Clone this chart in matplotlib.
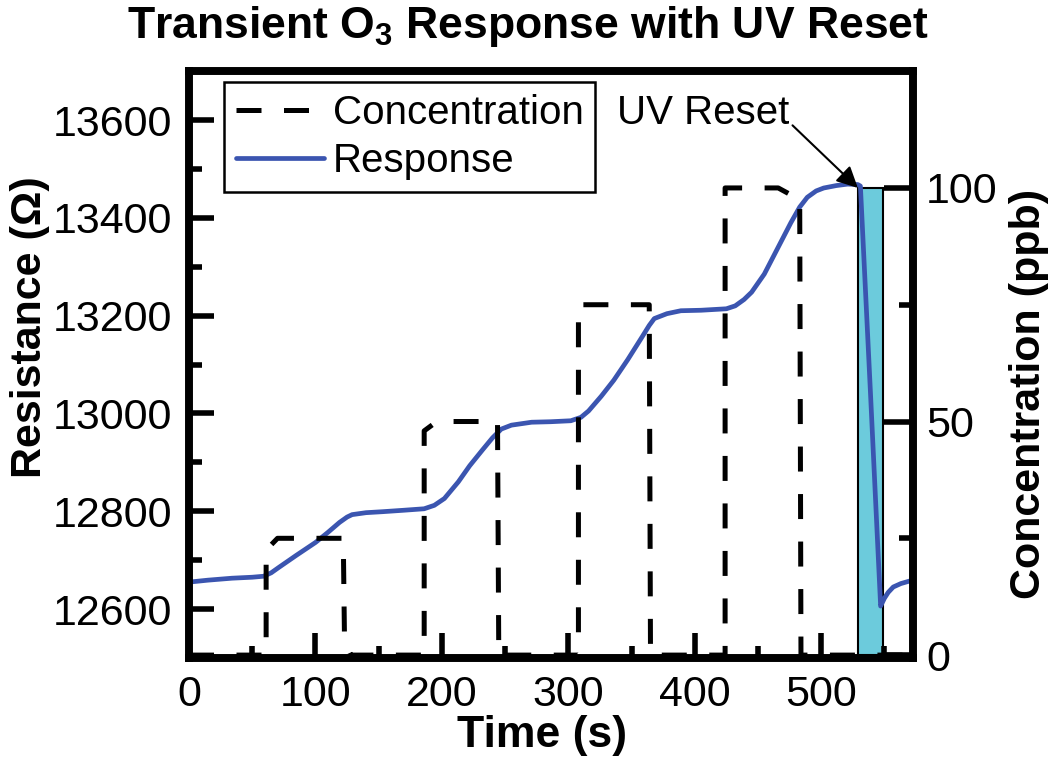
import matplotlib
matplotlib.use("Agg")
import matplotlib.pyplot as plt
from matplotlib.patches import Rectangle
from matplotlib.ticker import MultipleLocator

plt.rcParams['font.family'] = ['Liberation Sans', 'DejaVu Sans']

# ---- data ----
resp_t = [0, 15, 34, 50, 59, 65, 71, 85, 100, 110, 119, 125, 129, 140, 153, 170, 186,
          194, 202, 213, 222, 232, 240, 247, 255, 271, 286, 302, 310, 316, 326, 336,
          347, 358, 364, 368, 378, 389, 405, 425, 432, 439, 445, 455, 465, 476, 483,
          489, 496, 502, 512, 521, 529, 531, 539, 547, 550, 553, 557, 563, 571, 573]
resp_R = [12655, 12659, 12663, 12665, 12667, 12674, 12685, 12710, 12736, 12757, 12777,
          12788, 12793, 12797, 12799, 12802, 12805, 12812, 12826, 12860, 12893, 12925,
          12950, 12968, 12976, 12982, 12983, 12985, 12992, 13005, 13035, 13068, 13110,
          13155, 13180, 13194, 13204, 13210, 13211, 13214, 13220, 13233, 13248, 13285,
          13335, 13390, 13422, 13442, 13455, 13461, 13466, 13469, 13468, 13465, 13040,
          12606, 12622, 12634, 12645, 12652, 12658, 12659]

conc_t = [0, 61, 61, 70, 122, 123, 128, 186, 186, 196, 244, 245, 308, 308, 364, 365,
          424, 424, 466, 483, 484, 573]
conc_v = [0, 0, 22.5, 25, 25, 3, 0, 0, 48, 50, 50, 0, 0, 75, 75, 0,
          0, 100, 100, 97.5, 0, 0]

uv_start, uv_end, uv_level = 529, 548.6, 100

xticks = [0, 100, 200, 300, 400, 500]
rticks = [12600, 12800, 13000, 13200, 13400, 13600]
cticks = [0, 50, 100]

blue = '#3b55b0'
cyan = '#6ccbdc'

fig = plt.figure(figsize=(10.5, 7.65), dpi=100)
ax = fig.add_axes([0.18, 0.140, 0.69, 0.767])
ax2 = ax.twinx()

ax.set_xlim(0, 573)
ax.set_ylim(12500, 13700)
ax2.set_ylim(-0.6, 125)

# UV reset box (in concentration coords), under the response line
ax.add_patch(Rectangle((uv_start, 0), uv_end - uv_start, uv_level,
                       transform=ax2.transData, facecolor=cyan,
                       edgecolor='black', lw=1.5, zorder=1))
l_resp, = ax.plot(resp_t, resp_R, color=blue, lw=3.4, zorder=2,
                  solid_capstyle='round', label='Response')
l_conc, = ax2.plot(conc_t, conc_v, color='black', lw=3.6, dashes=(5, 4.5),
                   zorder=3, label='Concentration')

ax.set_zorder(0)
ax2.set_zorder(1)

for a in (ax, ax2):
    for s in a.spines.values():
        s.set_linewidth(5.5)

ax.set_xticks(xticks)
ax.xaxis.set_minor_locator(MultipleLocator(50))
ax.set_yticks(rticks)
ax.yaxis.set_minor_locator(MultipleLocator(100))
ax2.set_yticks(cticks)
ax2.yaxis.set_minor_locator(MultipleLocator(25))

ax.tick_params(axis='both', which='major', direction='in', length=18, width=4,
               labelsize=31, pad=12)
ax.tick_params(axis='both', which='minor', direction='in', length=9, width=4)
ax.tick_params(axis='x', which='major', pad=12)
ax2.tick_params(axis='y', which='major', direction='in', length=21, width=4,
                labelsize=31, pad=9)
ax2.tick_params(axis='y', which='minor', direction='in', length=10, width=4)

ax.set_xlabel('Time (s)', fontsize=32, fontweight='bold', labelpad=0)
ax.xaxis.label.set_x(0.488)
ax.set_ylabel('Resistance (Ω)', fontsize=31, fontweight='bold', labelpad=2)
ax.yaxis.label.set_y(0.563)
ax2.set_ylabel('Concentration (ppb)', fontsize=31, fontweight='bold', labelpad=8)
ax2.yaxis.label.set_y(0.45)
ax.set_title(r'Transient O$\mathregular{_3}$ Response with UV Reset',
             fontsize=32, fontweight='bold', pad=24, x=0.468)

leg = ax2.legend(handles=[l_conc, l_resp], loc='upper left',
                 bbox_to_anchor=(0.048, 0.982), fontsize=29, frameon=True,
                 fancybox=False, edgecolor='black', framealpha=1,
                 handlelength=2.2, handletextpad=0.2, borderpad=0.3,
                 labelspacing=0.25, borderaxespad=0)
leg.get_frame().set_linewidth(1.8)
leg._legend_box.align = 'left'

ax2.annotate('UV Reset', xy=(uv_start, uv_level), xytext=(407, 116),
             ha='center', va='center', fontsize=29,
             arrowprops=dict(arrowstyle='-|>', color='black', lw=1.5,
                             mutation_scale=32, shrinkA=0, shrinkB=0,
                             relpos=(1.0, 0.25)))

fig.savefig('out.png', dpi=100)
